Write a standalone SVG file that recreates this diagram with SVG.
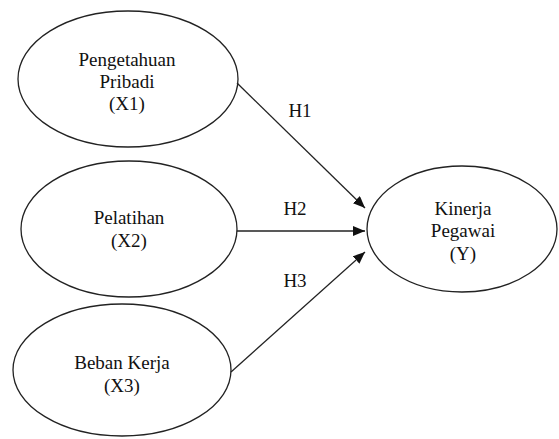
<svg xmlns="http://www.w3.org/2000/svg" width="559" height="439" viewBox="0 0 559 439">
<defs>
<style>
.node{fill:#fff;stroke:#222;stroke-width:1.3}
.t{font-family:"Liberation Serif","Times New Roman",serif;font-size:19px;fill:#111;text-anchor:middle}
.edge{stroke:#222;stroke-width:1.3;fill:none}
</style>
<marker id="ah" viewBox="0 0 12 10" refX="12" refY="5" markerWidth="12" markerHeight="10" markerUnits="userSpaceOnUse" orient="auto">
<path d="M0,0 L12,5 L0,10 z" fill="#111"/>
</marker>
</defs>
<rect width="559" height="439" fill="#fff"/>
<g id="x1">
<ellipse class="node" cx="128" cy="79" rx="110" ry="68"/>
<text class="t" x="127" y="66">Pengetahuan</text>
<text class="t" x="127" y="88">Pribadi</text>
<text class="t" x="127" y="110">(X1)</text>
</g>
<g id="x2">
<ellipse class="node" cx="129" cy="229" rx="108" ry="68"/>
<text class="t" x="129" y="224">Pelatihan</text>
<text class="t" x="129" y="247">(X2)</text>
</g>
<g id="x3">
<ellipse class="node" cx="122" cy="370" rx="109" ry="66"/>
<text class="t" x="122" y="369">Beban Kerja</text>
<text class="t" x="122" y="392">(X3)</text>
</g>
<g id="y">
<ellipse class="node" cx="462" cy="229" rx="95" ry="63"/>
<text class="t" x="463" y="215">Kinerja</text>
<text class="t" x="463" y="237">Pegawai</text>
<text class="t" x="463" y="260">(Y)</text>
</g>
<g id="edges">
<line class="edge" x1="237" y1="83" x2="365" y2="208" marker-end="url(#ah)"/>
<line class="edge" x1="237" y1="231" x2="365" y2="231" marker-end="url(#ah)"/>
<line class="edge" x1="231" y1="372" x2="365" y2="252" marker-end="url(#ah)"/>
<text class="t" x="300" y="117">H1</text>
<text class="t" x="295" y="215">H2</text>
<text class="t" x="295" y="287">H3</text>
</g>
</svg>
